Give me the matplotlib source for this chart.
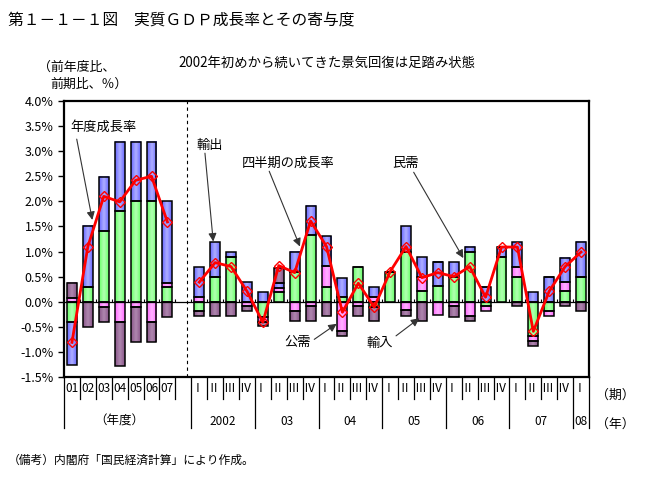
import matplotlib.pyplot as plt
import numpy as np
from matplotlib.colors import LinearSegmentedColormap

plt.rcParams['font.family'] = ['Noto Sans CJK JP', 'DejaVu Sans']

# 年度 (2001-2007)
fy_labels = ['01', '02', '03', '04', '05', '06', '07']
fy_growth = [-0.81, 1.10, 2.10, 1.99, 2.42, 2.50, 1.59]
fy_private = [-0.40, 0.29, 1.41, 1.81, 2.00, 2.00, 0.29]
fy_public = [0.08, 0.00, -0.11, -0.41, -0.10, -0.40, 0.09]
fy_export = [-0.87, 1.22, 1.08, 1.38, 1.19, 1.19, 1.62]
fy_import = [0.30, -0.50, -0.29, -0.88, -0.70, -0.40, -0.30]

# 四半期 (2002 I - 2008 I)
q_labels = ['Ⅰ', 'Ⅱ', 'Ⅲ', 'Ⅳ'] * 6 + ['Ⅰ']
year_labels = ['2002', '03', '04', '05', '06', '07', '08']
q_growth = [0.39, 0.78, 0.70, 0.21, -0.41, 0.72, 0.58, 1.61,
            1.10, -0.21, 0.37, -0.11, 0.60, 1.10, 0.48, 0.58,
            0.50, 0.70, 0.09, 1.09, 1.09, -0.59, 0.21, 0.70, 0.99]
q_private = [-0.19, 0.50, 0.90, 0.00, -0.30, 0.19, 0.59, 1.32,
             0.29, 0.10, 0.69, -0.10, 0.59, 1.00, 0.21, 0.31,
             0.50, 0.99, -0.09, 0.90, 0.50, -0.69, -0.19, 0.21, 0.49]
q_public = [0.10, 0.00, 0.00, -0.09, -0.10, 0.09, -0.19, -0.08,
            0.43, -0.59, -0.08, 0.10, 0.00, -0.16, 0.29, -0.27,
            -0.08, -0.29, -0.09, 0.00, 0.20, -0.10, -0.09, 0.18, 0.00]
q_export = [0.59, 0.69, 0.09, 0.39, 0.19, 0.10, 0.40, 0.58,
            0.58, 0.37, 0.00, 0.19, 0.00, 0.50, 0.39, 0.48,
            0.29, 0.10, 0.29, 0.19, 0.49, 0.19, 0.49, 0.49, 0.70]
q_import = [-0.09, -0.29, -0.29, -0.10, -0.08, 0.30, -0.20, -0.31,
            -0.29, -0.10, -0.21, -0.29, 0.00, -0.13, -0.39, 0.00,
            -0.22, -0.09, 0.00, 0.00, -0.08, -0.09, 0.00, -0.08, -0.19]

x_fy = np.arange(len(fy_labels))
x_q = np.arange(len(q_labels)) + len(fy_labels) + 1
x_all = np.concatenate([x_fy, x_q])

series = [
    (fy_private + q_private, '#66FF66', '#B4FFB4'),
    (fy_public + q_public, '#FF66FF', '#FFB4FF'),
    (fy_export + q_export, '#6666FF', '#B0B0FF'),
    (fy_import + q_import, '#885588', '#B088B0'),
]

fig = plt.figure(figsize=(6.47, 4.87), dpi=100)
ax = fig.add_axes([64 / 647, 1 - 377 / 487, 525 / 647, 276 / 487])

W = 0.62
grad = np.linspace(0, 1, 64).reshape(1, -1)
pos = np.zeros(len(x_all))
neg = np.zeros(len(x_all))
for vals, c1, c2 in series:
    v = np.array(vals)
    bottom = np.where(v >= 0, pos, neg)
    bars = ax.bar(x_all, v, W, bottom=bottom, facecolor='none',
                  edgecolor='black', linewidth=1.1, zorder=3)
    cmap = LinearSegmentedColormap.from_list('g', [c1, c2, c1])
    for p in bars:
        if p.get_height() == 0:
            continue
        x0, y0 = p.get_x(), p.get_y()
        ax.imshow(grad, cmap=cmap, aspect='auto', interpolation='bicubic',
                  extent=[x0, x0 + p.get_width(), y0, y0 + p.get_height()], zorder=2)
    pos = np.where(v >= 0, pos + v, pos)
    neg = np.where(v < 0, neg + v, neg)

# 成長率の折れ線
for xs, ys in [(x_fy, fy_growth), (x_q, q_growth)]:
    ax.plot(xs, ys, color='red', lw=2, marker='D', ms=5, mfc='none',
            mec='red', mew=1, zorder=5)

ax.axhline(0, color='black', lw=0.9, zorder=4)
edges = np.arange(-0.5, x_all[-1] + 1)
ax.vlines(edges, 0, 0.06, color='black', lw=0.8, zorder=4)
ax.axvline(7.2, color='black', lw=0.8, ls=(0, (3, 3)), zorder=1)

ax.set_xlim(-0.5, x_all[-1] + 0.5)
ax.set_ylim(-1.5, 4.0)
yt = np.arange(-1.5, 4.01, 0.5)
ax.set_yticks(yt)
ax.set_yticklabels([f'{v:.1f}%' for v in yt], fontsize=9)
ax.tick_params(axis='y', direction='out', length=4, width=1)
ax.set_xticks([])
for s in ax.spines.values():
    s.set_linewidth(1.6)

# 横軸の表
tr = ax.get_xaxis_transform()
r1, r2 = -0.078, -0.183
year_edges = [-0.5, 7.5, 11.5, 15.5, 19.5, 23.5, 27.5, 31.5, 32.5]
for e in edges:
    bot = r2 if e in year_edges else r1
    ax.plot([e, e], [0, bot], transform=tr, color='black', lw=0.9, clip_on=False)
for x, lab in zip(x_fy, fy_labels):
    ax.text(x, -0.040, lab, transform=tr, ha='center', va='center', fontsize=8.5)
for x, lab in zip(x_q, q_labels):
    ax.text(x - 0.12, -0.040, lab, transform=tr, ha='center', va='center', fontsize=8.5)
ax.text(3.0, -0.160, '（年度）', transform=tr, ha='center', va='center', fontsize=9)
year_pos = [9.5, 13.5, 17.5, 21.5, 25.5, 29.5, 32.0]
for x, lab in zip(year_pos, year_labels):
    ax.text(x, -0.160, lab, transform=tr, ha='center', va='center', fontsize=8.5)

# 注記と矢印
notes = [
    ('年度成長率', (2.0, 3.47), (0.30, 3.24), (1.28, 1.63)),
    ('輸出', (8.68, 3.12), (8.36, 2.96), (8.88, 1.20)),
    ('四半期の成長率', (13.58, 2.76), (12.40, 2.60), (14.33, 1.10)),
    ('民需', (20.99, 2.76), (21.48, 2.58), (24.60, 0.87)),
    ('公需', (14.19, -0.81), (15.23, -0.75), (16.64, -0.44)),
    ('輸入', (19.34, -0.84), (20.37, -0.68), (21.83, -0.33)),
]
for txt, tpos, start, tip in notes:
    ax.text(*tpos, txt, ha='center', va='center', fontsize=9.5, zorder=6)
    ax.annotate('', xy=tip, xytext=start, zorder=6,
                arrowprops=dict(arrowstyle='-|>', color='#333333', lw=0.8,
                                mutation_scale=12, shrinkA=0, shrinkB=0))

fig.text(8 / 647, 1 - 20 / 487, '第１－１－１図　実質ＧＤＰ成長率とその寄与度',
         fontsize=11.3, va='center')
fig.text(327 / 647, 1 - 63 / 487, '2002年初めから続いてきた景気回復は足踏み状態',
         fontsize=9.6, ha='center', va='center')
fig.text(38 / 647, 1 - 67 / 487, '（前年度比、', fontsize=9.3, va='center')
fig.text(50 / 647, 1 - 84 / 487, '前期比、％）', fontsize=9.3, va='center')
fig.text(596 / 647, 1 - 395 / 487, '（期）', fontsize=9.3, va='center')
fig.text(596 / 647, 1 - 424 / 487, '（年）', fontsize=9.3, va='center')
fig.text(8 / 647, 1 - 460 / 487, '（備考）内閣府「国民経済計算」により作成。',
         fontsize=8.5, va='center')

fig.savefig('out.png', dpi=100)
